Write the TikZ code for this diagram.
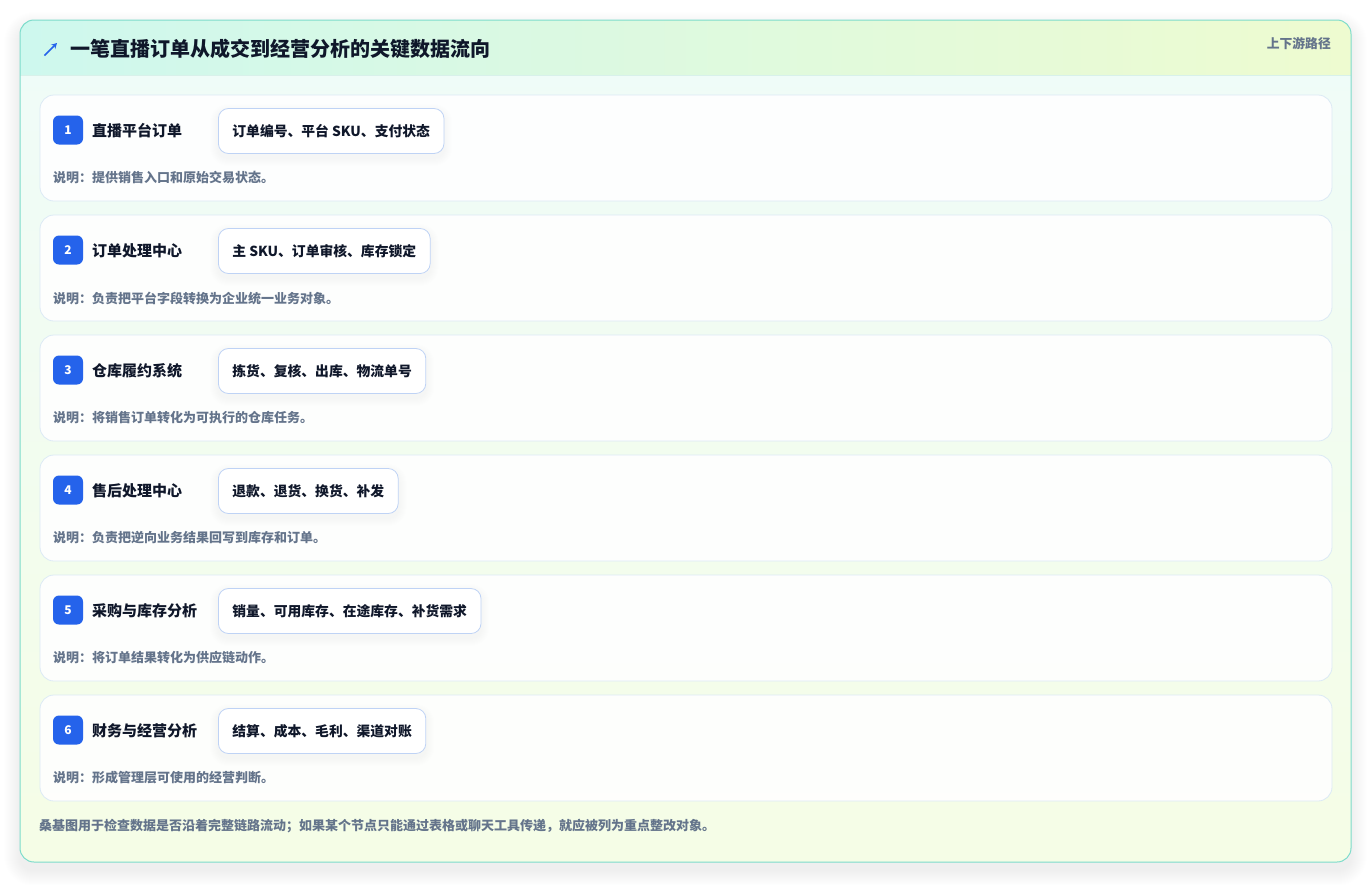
\documentclass[tikz,border=0pt]{standalone}
\usepackage{fontspec}
\setmainfont{Noto Sans CJK SC}
\usetikzlibrary{arrows.meta}
\definecolor{cardborder}{HTML}{7DDCCB}
\definecolor{hdrL}{HTML}{CEF8EE}
\definecolor{hdrR}{HTML}{EEFBD0}
\definecolor{hdrline}{HTML}{D8F1EA}
\definecolor{bodyT}{HTML}{EFFCF9}
\definecolor{bodyB}{HTML}{F5FDE6}
\definecolor{rowborder}{HTML}{DCEAF5}
\definecolor{chipborder}{HTML}{BFD3F5}
\definecolor{badgeblue}{HTML}{2563EB}
\definecolor{ink}{HTML}{0F172A}
\definecolor{muted}{HTML}{64748B}
\definecolor{shadowc}{HTML}{334155}
\tikzset{
  rowbox/.style={draw=rowborder, line width=0.8pt, fill=white, fill opacity=0.9, rounded corners=14pt},
  badgebox/.style={fill=badgeblue, rounded corners=6pt, minimum width=30pt, minimum height=29pt, inner sep=0pt, text=white, font=\fontsize{12}{14}\selectfont\bfseries},
  labeltext/.style={anchor=west, inner sep=0pt, text=ink, font=\fontsize{15}{18}\selectfont\bfseries},
  chipbox/.style={anchor=west, draw=chipborder, line width=0.8pt, fill=white, rounded corners=10pt, minimum height=45pt, inner xsep=14pt, inner ysep=0pt, text=ink, font=\fontsize{13.8}{16}\selectfont\bfseries},
  desctext/.style={anchor=west, inner sep=0pt, text=muted, font=\fontsize{13}{15}\selectfont\bfseries},
}
\begin{document}
\begin{tikzpicture}[x=1pt, y=-1pt]
\useasboundingbox (0,0) rectangle (1372,884);
\fill[white] (0,0) rectangle (1372,884);
% card shadow
\foreach \k in {1,...,16}{
  \fill[shadowc, fill opacity=0.0045, rounded corners=14pt+\k pt] (20-\k,20-\k+8) rectangle (1351+\k,862+\k+8);
}
\begin{scope}
\clip[rounded corners=14pt] (20,20) rectangle (1351,862);
\shade[top color=bodyT, bottom color=bodyB] (20,20) rectangle (1351,862);
\shade[left color=hdrL, right color=hdrR] (20,20) rectangle (1351,75);
\draw[hdrline, line width=1pt] (20,75) -- (1351,75);
\end{scope}
\draw[cardborder, line width=1pt, rounded corners=14pt] (20,20) rectangle (1351,862);
% header
\coordinate (iconA) at (44.5,55.5);
\coordinate (iconB) at (57,43);
\draw[badgeblue, line width=1.7pt, -{Stealth[length=5.5pt, width=6pt]}] (iconA) -- (iconB);
\node[anchor=west, inner sep=0pt, text=ink, font=\fontsize{20}{24}\selectfont\bfseries] (title) at (70,49) {一笔直播订单从成交到经营分析的关键数据流向};
\node[anchor=east, inner sep=0pt, text=muted, font=\fontsize{12.8}{15}\selectfont\bfseries] (path) at (1331,44) {上下游路径};
% rows
\foreach \i/\lab/\chip/\desc in {
  1/直播平台订单/订单编号、平台 SKU、支付状态/说明：提供销售入口和原始交易状态。,
  2/订单处理中心/主 SKU、订单审核、库存锁定/说明：负责把平台字段转换为企业统一业务对象。,
  3/仓库履约系统/拣货、复核、出库、物流单号/说明：将销售订单转化为可执行的仓库任务。,
  4/售后处理中心/退款、退货、换货、补发/说明：负责把逆向业务结果回写到库存和订单。,
  5/采购与库存分析/销量、可用库存、在途库存、补货需求/说明：将订单结果转化为供应链动作。,
  6/财务与经营分析/结算、成本、毛利、渠道对账/说明：形成管理层可使用的经营判断。}
{
  \pgfmathsetmacro{\top}{95+120*(\i-1)}
  \draw[rowbox] (40,\top) rectangle (1332,\top+106);
  \node[badgebox] (badge\i) at (68,\top+35) {\i};
  \node[labeltext] (label\i) at (92,\top+36) {\lab};
  \node[chipbox, opacity=0] (ghost\i) at (218,\top+36) {\chip};
  \foreach \k in {1,...,8}{
    \fill[shadowc, fill opacity=0.0055, rounded corners=10pt+\k pt]
      ([xshift=-\k pt, yshift=\k pt-4pt]ghost\i.north west) rectangle ([xshift=\k pt, yshift=-\k pt-4pt]ghost\i.south east);
  }
  \node[chipbox] (chip\i) at (218,\top+36) {\chip};
  \node[desctext] (desc\i) at (53,\top+83) {\desc};
}
% footer
\node[anchor=west, inner sep=0pt, text=muted, font=\fontsize{13}{15}\selectfont\bfseries] (footer) at (39,826) {桑基图用于检查数据是否沿着完整链路流动；如果某个节点只能通过表格或聊天工具传递，就应被列为重点整改对象。};
\end{tikzpicture}
\end{document}
